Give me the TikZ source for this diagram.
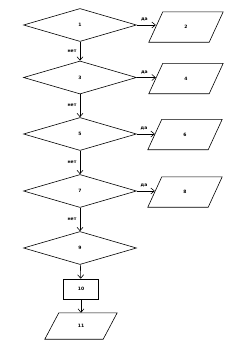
\documentclass[tikz,border=0pt]{standalone}
\usepackage{fontspec}
\setmainfont{DejaVu Sans}
\usetikzlibrary{arrows.meta,positioning,shapes.geometric,calc}

\begin{document}
\begin{tikzpicture}[x=1pt,y=-1pt,>={Straight Barb[length=3.5pt,width=6pt]},
  flow/.style={->,line width=0.6pt},
  cond/.style={diamond,draw,line width=0.6pt,minimum width=113pt,minimum height=33pt,inner sep=0pt},
  io/.style={rectangle,minimum width=60pt,minimum height=30pt,inner sep=0pt},
  proc/.style={rectangle,draw,line width=0.6pt,minimum width=35pt,minimum height=20pt,inner sep=0pt},
  lab/.style={font=\fontsize{4.5}{5}\selectfont\bfseries}]
\useasboundingbox (0,0) rectangle (240,351);
\node[cond,lab] (d1) at (80,25) {1};
\node[cond,lab] (d3) at (80,77.5) {3};
\node[cond,lab] (d5) at (80,134) {5};
\node[cond,lab] (d7) at (80,191) {7};
\node[cond,lab] (d9) at (80,248) {9};
\node[io,lab] (p2) at (186,27) {2};
\node[io,lab] (p4) at (186,78.5) {4};
\node[io,lab] (p6) at (185,134.5) {6};
\node[io,lab] (p8) at (185,192) {8};
\node[proc,lab] (b10) at (81,289) {10};
\node[io,lab,minimum width=58pt,minimum height=26pt] (p11) at (81,326) {11};
% slanted outlines of the input/output boxes
\foreach \p in {p2,p4,p6,p8,p11}
  \draw[line width=0.6pt] ($(\p.north west)+(7,0)$) -- ($(\p.north east)+(7,0)$)
    -- ($(\p.south east)+(-7,0)$) -- ($(\p.south west)+(-7,0)$) -- cycle;
\draw[flow] (d1) -- node[left,lab]{нет} (d3);
\draw[flow] (d3) -- node[left,lab]{нет} (d5);
\draw[flow] (d5) -- node[left,lab]{нет} (d7);
\draw[flow] (d7) -- node[left,lab]{нет} (d9);
\draw[flow] (d9) -- (b10);
\draw[flow] (b10) -- (p11);
\draw[flow] (d1.east) -- node[above,lab,pos=0.4]{да} (d1.east -| p2.west);
\draw[flow] (d3.east) -- node[above,lab,pos=0.4]{да} (d3.east -| p4.west);
\draw[flow] (d5.east) -- node[above,lab,pos=0.4]{да} (d5.east -| p6.west);
\draw[flow] (d7.east) -- node[above,lab,pos=0.4]{да} (d7.east -| p8.west);
\end{tikzpicture}
\end{document}
